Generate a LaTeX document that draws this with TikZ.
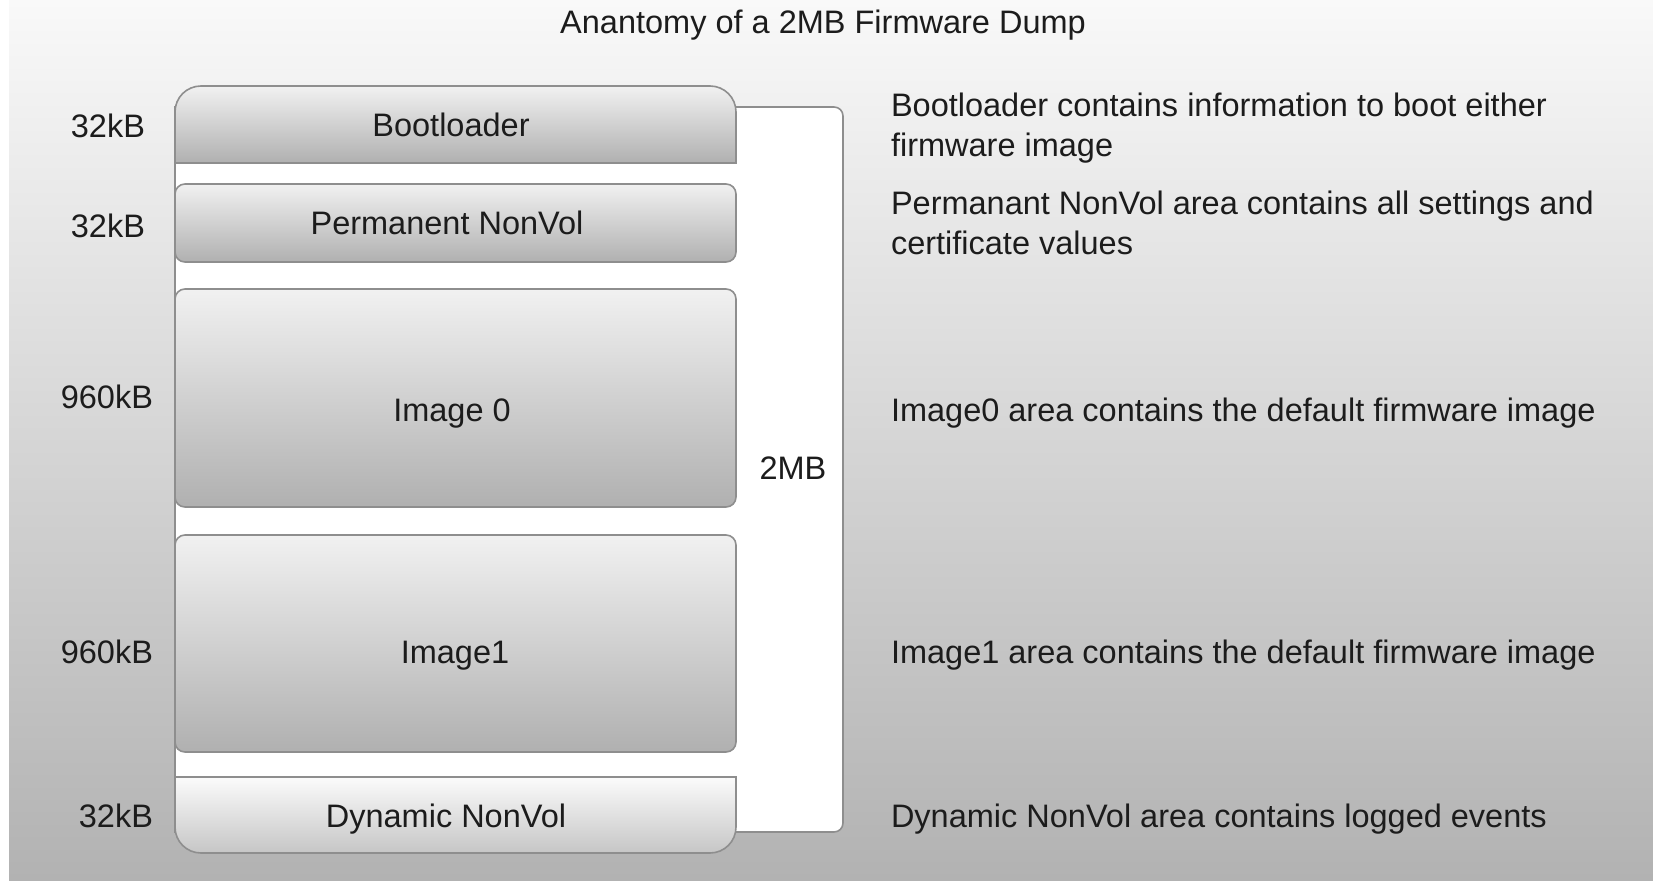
\documentclass[tikz,border=0pt]{standalone}
\usepackage{fontspec}
\setmainfont{Liberation Sans}
\definecolor{bgtop}{HTML}{F9F9F9}
\definecolor{bgbot}{HTML}{B2B2B2}
\definecolor{edgegray}{HTML}{8E8E8E}
\definecolor{ink}{HTML}{1C1C1C}
\definecolor{blktop}{HTML}{F1F1F1}
\definecolor{blkbot}{HTML}{B0B0B0}
\definecolor{dyntop}{HTML}{FBFBFB}
\definecolor{dynbot}{HTML}{C6C6C6}
\begin{document}
\begin{tikzpicture}[x=1pt,y=-1pt,
  txt/.style={text=ink, font=\fontsize{32.5}{40}\selectfont, inner sep=0pt, outer sep=0pt},
  memblock/.style={draw=edgegray, line width=1.6pt, top color=blktop, bottom color=blkbot},
  dynblock/.style={draw=edgegray, line width=1.6pt, top color=dyntop, bottom color=dynbot},
  panel/.style={fill=white, draw=edgegray, line width=1.6pt},
  desc/.style={txt, anchor=north west, align=left}]
  \useasboundingbox (0,0) rectangle (1653,880);
  % backdrop: thin white strip on the left, grey gradient elsewhere
  \fill[white] (0,0) rectangle (1653,880);
  \shade[top color=bgtop, bottom color=bgbot] (9,0) rectangle (1653,880);

  % title
  \node[txt, anchor=base] (title) at (823,34) {Anantomy of a 2MB Firmware Dump};

  % white panel spanning the whole 2MB
  \path[panel] (175,107) -- (834,107) .. controls (839,107) and (843,111) .. (843,116)
     -- (843,823) .. controls (843,828) and (839,832) .. (834,832) -- (175,832) -- cycle;

  % memory regions (outer ends of the stack have large round corners)
  \path[memblock] (175,163) -- (175,112) .. controls (175,97.6) and (186.6,86) .. (201,86)
     -- (710,86) .. controls (724.4,86) and (736,97.6) .. (736,112) -- (736,163) -- cycle;
  \path[memblock, rounded corners=10pt] (175,184) rectangle (736,262);
  \path[memblock, rounded corners=10pt] (175,289) rectangle (736,507);
  \path[memblock, rounded corners=10pt] (175,535) rectangle (736,752);
  \path[dynblock] (175,777) -- (736,777) -- (736,827) .. controls (736,841.4) and (724.4,853) .. (710,853)
     -- (201,853) .. controls (186.6,853) and (175,841.4) .. (175,827) -- cycle;

  % region names
  \node[txt, anchor=base] (bootname) at (451,136) {Bootloader};
  \node[txt, anchor=base] (permname) at (447,234) {Permanent NonVol};
  \node[txt, anchor=base] (img0name) at (452,421) {Image 0};
  \node[txt, anchor=base] (img1name) at (455,663) {Image1};
  \node[txt, anchor=base] (dynname)  at (446,827) {Dynamic NonVol};

  % sizes
  \node[txt, anchor=base east] (bootsize) at (145,138) {32kB};
  \node[txt, anchor=base east] (permsize) at (145,237) {32kB};
  \node[txt, anchor=base east] (img0size) at (153,408) {960kB};
  \node[txt, anchor=base east] (img1size) at (153,663) {960kB};
  \node[txt, anchor=base east] (dynsize)  at (153,827) {32kB};
  \node[txt, anchor=base] (total) at (793,479) {2MB};

  % descriptions
  \node[desc] (bootdesc) at (891,93.3) {Bootloader contains information to boot either\\firmware image};
  \node[desc] (permdesc) at (891,191.3) {Permanant NonVol area contains all settings and\\certificate values};
  \node[txt, anchor=base west] (img0desc) at (891,421) {Image0 area contains the default firmware image};
  \node[txt, anchor=base west] (img1desc) at (891,663) {Image1 area contains the default firmware image};
  \node[txt, anchor=base west] (dyndesc) at (891,827) {Dynamic NonVol area contains logged events};
\end{tikzpicture}
\end{document}
